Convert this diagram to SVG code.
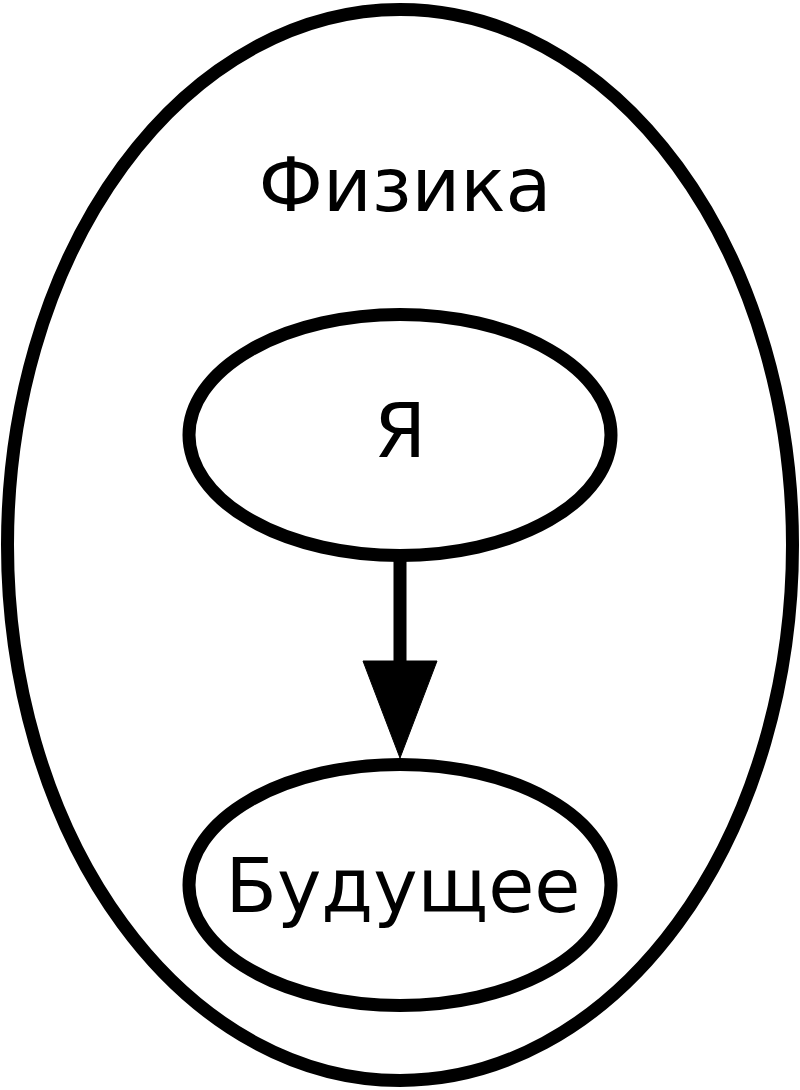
<svg xmlns="http://www.w3.org/2000/svg" width="800" height="1090" viewBox="0 0 800 1090">
<style>
.shape{fill:#fff;stroke:#000;stroke-width:13}
.lbl{font-family:"DejaVu Sans",sans-serif;font-size:75px;fill:#000;text-anchor:middle}
.edge{stroke:#000;stroke-width:13;fill:none}
.head{fill:#000;stroke:#000;stroke-width:1}
</style>
<rect width="800" height="1090" fill="#fff"/>
<g id="cluster_physics">
<ellipse class="shape" cx="400" cy="545" rx="392.5" ry="535.5"/>
<text class="lbl" x="405" y="211">Физика</text>
</g>
<g id="connectors">
<line class="edge" x1="400" y1="556" x2="400" y2="662"/>
<polygon class="head" points="363,661 437,661 400,758"/>
</g>
<g id="node_ya">
<ellipse class="shape" cx="400" cy="435" rx="211" ry="120.5"/>
<text class="lbl" x="400" y="457">Я</text>
</g>
<g id="node_future">
<ellipse class="shape" cx="400" cy="885" rx="211" ry="120.5"/>
<text class="lbl" x="403" y="912">Будущее</text>
</g>
</svg>
